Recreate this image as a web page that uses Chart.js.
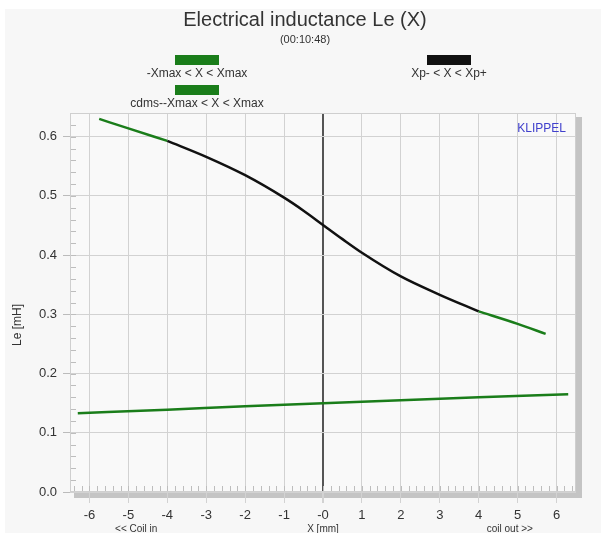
<!DOCTYPE html>
<html>
<head>
<meta charset="utf-8">
<script src="https://cdn.jsdelivr.net/npm/chart.js@4/dist/chart.umd.min.js"></script>
<style>
  body { margin: 0; background: #fff; }
  #wrap { position: absolute; left: 0; top: 0; width: 601px; height: 533px; }
</style>
</head>
<body>
<div id="wrap"><canvas id="leChart" width="601" height="533"></canvas></div>
<script>
// inductance curve Le(X), mH
const leX   = [-5.75, -5, -4, -3, -2, -1, -0.5, 0, 0.5, 1, 2, 3, 4, 5, 5.72];
const leVal = [0.630, 0.614, 0.593, 0.566, 0.535, 0.497, 0.475, 0.451, 0.427, 0.404, 0.364, 0.333, 0.305, 0.284, 0.267];
// Xp- .. Xp+ range (black part)
const xpMin = -4, xpMax = 4;
// cdms curve
const cdmsX   = [-6.3, -4, -2, 0, 2, 4, 6.3];
const cdmsVal = [0.133, 0.139, 0.145, 0.150, 0.155, 0.160, 0.165];

const xTicks = [-6, -5, -4, -3, -2, -1, 0, 1, 2, 3, 4, 5, 6];
const yTicks = [0, 0.1, 0.2, 0.3, 0.4, 0.5, 0.6];

const seriesNames = ['-Xmax < X < Xmax', 'Xp- < X < Xp+', 'cdms--Xmax < X < Xmax'];
const GREEN = '#1a7d1a', BLACK = '#111111';

// green outside Xp range, gap inside
const greenPts = [];
leX.forEach((x, i) => {
    if (x <= xpMin || x >= xpMax) greenPts.push({x: x, y: leVal[i]});
    if (x > xpMin && leX[i - 1] <= xpMin) greenPts.push({x: x, y: null});
});
const blackPts = leX.map((x, i) => ({x: x, y: leVal[i]})).filter(p => p.x >= xpMin && p.x <= xpMax);
const cdmsPts = cdmsX.map((x, i) => ({x: x, y: cdmsVal[i]}));

const FONT = 'Liberation Sans, Arial, sans-serif';

const decor = {
    id: 'decor',
    beforeDraw(chart) {
        const c = chart.ctx, a = chart.chartArea;
        c.save();
        c.fillStyle = '#f7f7f7';
        c.fillRect(5, 9, 596, 524);
        // shadow
        c.fillStyle = '#c4c4c4';
        c.fillRect(a.right, a.top + 4, 6, a.bottom - a.top + 2);
        c.fillRect(a.left + 4, a.bottom, a.right - a.left + 2, 6);
        c.fillStyle = '#f9f9f9';
        c.fillRect(a.left, a.top, a.right - a.left, a.bottom - a.top);
        c.restore();
    },
    beforeDatasetsDraw(chart) {
        const c = chart.ctx, a = chart.chartArea;
        const xs = chart.scales.x, ys = chart.scales.y;
        c.save();
        c.strokeStyle = '#bdbdbd';
        c.lineWidth = 1;
        c.beginPath();
        // minor ticks
        for (let v = 0.02; v < 0.64; v += 0.02) {
            const y = Math.round(ys.getPixelForValue(v)) + 0.5;
            c.moveTo(a.left, y); c.lineTo(a.left + 6, y);
        }
        for (let v = -6.4; v < 6.5; v += 0.2) {
            const x = Math.round(xs.getPixelForValue(v)) + 0.5;
            c.moveTo(x, a.bottom); c.lineTo(x, a.bottom - 6);
        }
        c.stroke();
        c.strokeStyle = '#cfcfcf';
        c.strokeRect(a.left + 0.5, a.top + 0.5, a.right - a.left - 1, a.bottom - a.top - 1);
        c.restore();
    },
    afterDraw(chart) {
        const c = chart.ctx, a = chart.chartArea;
        const xs = chart.scales.x;
        c.save();
        c.fillStyle = '#333';
        c.textAlign = 'center';
        c.textBaseline = 'middle';
        c.font = '20px ' + FONT;
        c.fillText('Electrical inductance Le (X)', 305, 20);
        c.font = '11px ' + FONT;
        c.fillText('(00:10:48)', 305, 40);

        // legend
        const items = [
            {cx: 197, by: 55, ly: 74},
            {cx: 449, by: 55, ly: 74},
            {cx: 197, by: 85, ly: 104}
        ];
        c.font = '12px ' + FONT;
        chart.data.datasets.forEach((ds, i) => {
            const it = items[i];
            c.fillStyle = ds.borderColor;
            c.fillRect(it.cx - 22, it.by, 44, 10);
            c.fillStyle = '#333';
            c.fillText(ds.label, it.cx, it.ly);
        });

        c.fillStyle = '#4040cc';
        c.font = '12px ' + FONT;
        c.textAlign = 'right';
        c.fillText('KLIPPEL', a.right - 10, 129);

        c.fillStyle = '#333';
        c.font = '10px ' + FONT;
        c.textAlign = 'center';
        c.fillText('<< Coil in', xs.getPixelForValue(-4.8), 529);
        c.fillText('X [mm]', xs.getPixelForValue(0), 529);
        c.fillText('coil out >>', xs.getPixelForValue(4.8), 529);

        // y axis title
        c.translate(18, 325);
        c.rotate(-Math.PI / 2);
        c.font = '12px ' + FONT;
        c.fillText('Le [mH]', 0, 0);
        c.restore();
    }
};

const lineOpts = {
    borderWidth: 2.5,
    pointRadius: 0,
    fill: false,
    cubicInterpolationMode: 'monotone',
    spanGaps: false
};

new Chart(document.getElementById('leChart').getContext('2d'), {
    type: 'line',
    data: {
        datasets: [
            Object.assign({label: seriesNames[0], data: greenPts, borderColor: GREEN}, lineOpts),
            Object.assign({label: seriesNames[1], data: blackPts, borderColor: BLACK}, lineOpts),
            Object.assign({label: seriesNames[2], data: cdmsPts, borderColor: GREEN}, lineOpts)
        ]
    },
    options: {
        responsive: false,
        animation: false,
        layout: { padding: { top: 113, right: 25, left: 0, bottom: 0 } },
        plugins: {
            legend: { display: false },
            tooltip: { enabled: false }
        },
        scales: {
            x: {
                type: 'linear',
                min: -6.5,
                max: 6.5,
                afterBuildTicks: s => { s.ticks = xTicks.map(v => ({value: v})); },
                afterFit: s => { s.height = 41; },
                border: { display: false },
                grid: {
                    color: ctx => ctx.tick && ctx.tick.value === 0 ? '#555' : '#d2d2d2',
                    lineWidth: ctx => ctx.tick && ctx.tick.value === 0 ? 2 : 1,
                    tickLength: 11,
                    tickColor: '#d2d2d2'
                },
                ticks: {
                    color: '#333',
                    font: { size: 13, family: FONT },
                    padding: 5,
                    maxRotation: 0,
                    callback: v => v === 0 ? '-0' : String(v)
                }
            },
            y: {
                min: 0,
                max: 0.64,
                afterBuildTicks: s => { s.ticks = yTicks.map(v => ({value: v})); },
                afterFit: s => { s.width = 70; },
                border: { display: false },
                grid: {
                    color: '#d2d2d2',
                    tickLength: 7,
                    tickColor: '#bbbbbb'
                },
                ticks: {
                    color: '#333',
                    font: { size: 13, family: FONT },
                    padding: 6,
                    callback: v => v.toFixed(1)
                }
            }
        }
    },
    plugins: [decor]
});
</script>
</body>
</html>
